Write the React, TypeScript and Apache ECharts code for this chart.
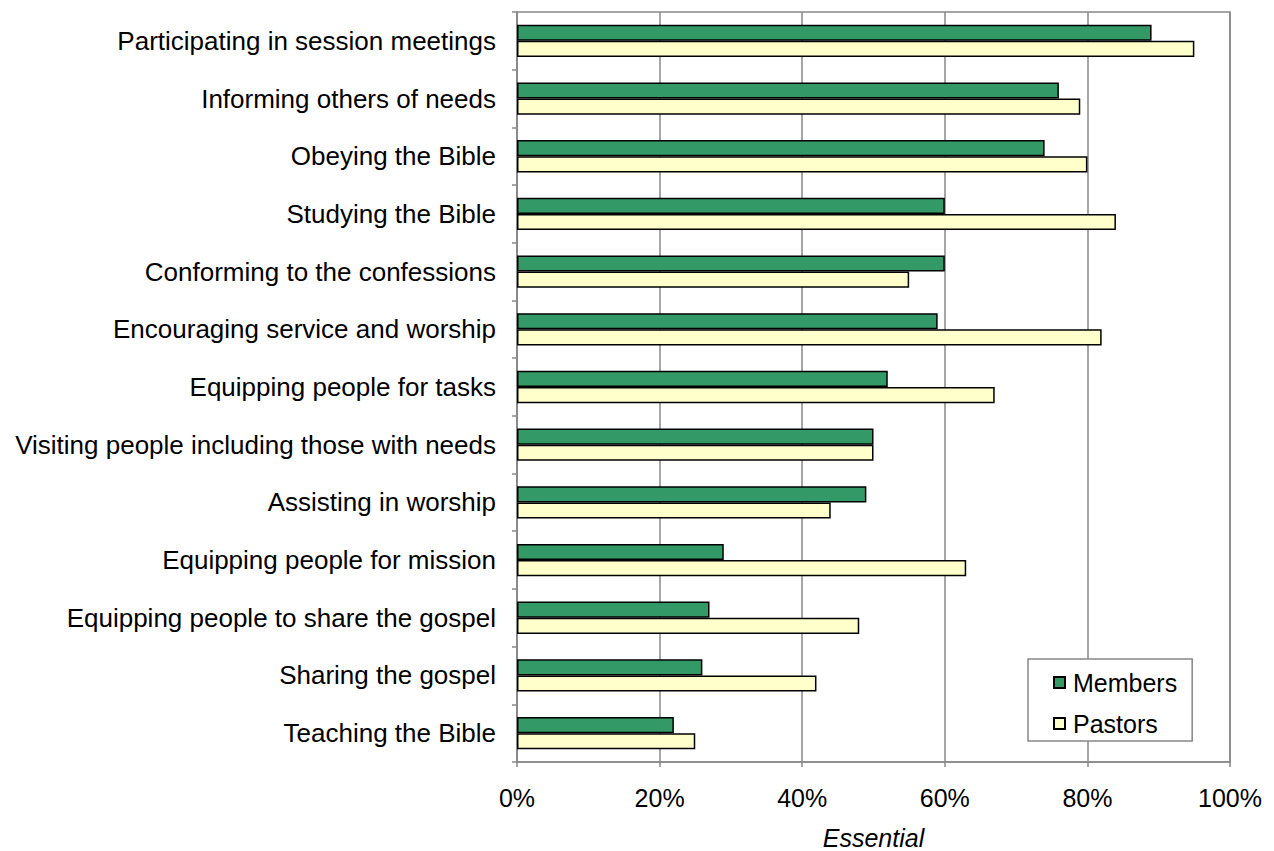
import React, { useEffect, useRef } from "react";
import * as echarts from "echarts";

const categories = [
  "Participating in session meetings",
  "Informing others of needs",
  "Obeying the Bible",
  "Studying the Bible",
  "Conforming to the confessions",
  "Encouraging service and worship",
  "Equipping people for tasks",
  "Visiting people including those with needs",
  "Assisting in worship",
  "Equipping people for mission",
  "Equipping people to share the gospel",
  "Sharing the gospel",
  "Teaching the Bible",
];
const members = [89, 76, 74, 60, 60, 59, 52, 50, 49, 29, 27, 26, 22];
const pastors = [95, 79, 80, 84, 55, 82, 67, 50, 44, 63, 48, 42, 25];
const xTicks = [0, 20, 40, 60, 80, 100];

const FONT = "'Liberation Sans', Arial, sans-serif";
const GREY = "#888888";

export default function App() {
  const ref = useRef<HTMLDivElement>(null);
  useEffect(() => {
    if (!ref.current) return;
    const chart = echarts.init(ref.current, undefined, { renderer: "svg" });
    chart.setOption({
      animation: false,
      backgroundColor: "#ffffff",
      textStyle: { fontFamily: FONT },
      grid: {
        left: 517,
        right: 44,
        top: 12,
        bottom: 89,
        containLabel: false,
        outerBoundsMode: "none",
        show: true,
        borderColor: GREY,
        borderWidth: 1.5,
      },
      legend: {
        orient: "vertical",
        left: 1028,
        top: 659,
        padding: [11, 15, 5, 25],
        itemGap: 16,
        itemWidth: 11,
        itemHeight: 11,
        icon: "rect",
        borderColor: GREY,
        borderWidth: 1.5,
        backgroundColor: "#ffffff",
        textStyle: { fontSize: 25, color: "#000", fontFamily: FONT, lineHeight: 25, padding: [0, 0, 0, 3] },
        data: ["Members", "Pastors"],
      },
      xAxis: {
        type: "value",
        min: 0,
        max: 100,
        interval: 20,
        name: "Essential",
        nameLocation: "middle",
        nameGap: 63,
        nameTextStyle: { fontSize: 25, lineHeight: 25, fontStyle: "italic", color: "#000", fontFamily: FONT },
        axisLine: { show: true, lineStyle: { color: GREY, width: 1.5 } },
        axisTick: { show: true, length: 5, lineStyle: { color: GREY, width: 1.5 } },
        axisLabel: {
          fontSize: 25,
          color: "#000",
          margin: 23,
          fontFamily: FONT,
          formatter: (v: number) => (xTicks.includes(v) ? v + "%" : ""),
        },
        splitLine: { show: true, lineStyle: { color: GREY, width: 1.5 } },
      },
      yAxis: {
        type: "category",
        inverse: true,
        data: categories,
        axisLine: { show: true, lineStyle: { color: GREY, width: 1.5 } },
        axisTick: { show: true, length: 5, alignWithLabel: false, lineStyle: { color: GREY, width: 1.5 } },
        axisLabel: { fontSize: 26, color: "#000", margin: 21, fontFamily: FONT },
        splitLine: { show: false },
      },
      series: [
        {
          name: "Members",
          type: "bar",
          data: members,
          barGap: "0%",
          barCategoryGap: "44%",
          itemStyle: { color: "#339966", borderColor: "#000", borderWidth: 1.5 },
        },
        {
          name: "Pastors",
          type: "bar",
          data: pastors,
          barGap: "0%",
          barCategoryGap: "44%",
          itemStyle: { color: "#FFFFCC", borderColor: "#000", borderWidth: 1.5 },
        },
      ],
    });
    return () => chart.dispose();
  }, []);
  return (
    <div
      ref={ref}
      style={{ position: "absolute", left: 0, top: 0, width: 1274, height: 851 }}
    />
  );
}
